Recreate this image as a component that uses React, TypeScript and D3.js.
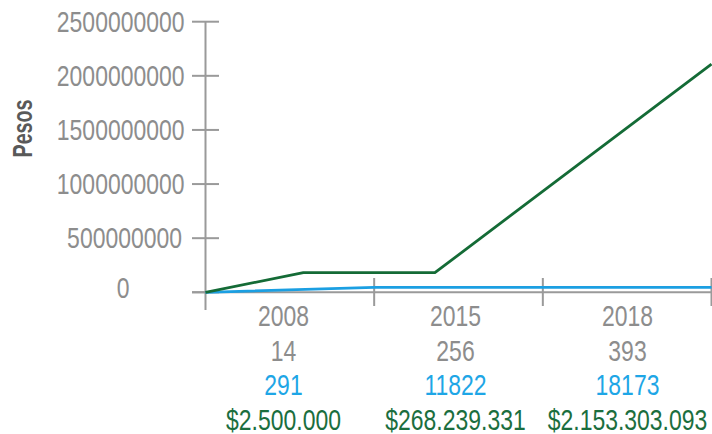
import React from "react";
import * as d3 from "d3";

const categories = ["2008", "2015", "2018"];
const rowCount = ["14", "256", "393"];
const rowBlue = ["291", "11822", "18173"];
const rowGreen = ["$2.500.000", "$268.239.331", "$2.153.303.093"];
const yTicks = [0, 500000000, 1000000000, 1500000000, 2000000000, 2500000000];

// line vertices, x in category units (0 = left axis, 3 = right edge)
const greenX = [0, 0.58, 1.36, 3];
const greenY = [0, 181000000, 181000000, 2109000000];
const blueX = [0, 1, 3];
const blueY = [0, 45000000, 45000000];

const W = 712;
const H = 434;
const FONT = "'Liberation Sans', Arial, sans-serif";
const FS = 29;
const SX = 0.792;
const GRAY = "#8d8d8d";
const AXIS = "#9a9a9a";
const GREEN = "#146b36";
const BLUE = "#1b9fe2";
const BLUE_TXT = "#1ea6e6";
const GREEN_TXT = "#1b6e3e";

function NText(props: {
  x: number;
  y: number;
  anchor: "start" | "middle" | "end";
  size: number;
  fill: string;
  children: React.ReactNode;
}) {
  return (
    <g transform={`translate(${props.x},${props.y}) scale(${SX},1)`}>
      <text x={0} y={0} textAnchor={props.anchor} fontSize={props.size} fill={props.fill}>
        {props.children}
      </text>
    </g>
  );
}

export default function App() {
  const x = d3.scaleLinear().domain([0, 3]).range([205.5, 711.5]);
  const y = d3.scaleLinear().domain([0, 2500000000]).range([292.3, 21.7]);
  const labelX = d3.scalePoint<string>().domain(categories).range([283.5, 627.5]);

  const line = d3
    .line<[number, number]>()
    .x((d) => x(d[0]))
    .y((d) => y(d[1]));

  const greenPts = greenX.map((v, i) => [v, greenY[i]] as [number, number]);
  const bluePts = blueX.map((v, i) => [v, blueY[i]] as [number, number]);

  const xTickVals = d3.range(0, categories.length + 1);

  const labelAdjust = (v: number) => {
    if (v === 0) return { dx: -55, dy: -4.5 };
    if (v === 500000000) return { dx: -2.5, dy: 0 };
    return { dx: 0, dy: 0 };
  };

  const rows: [string[], string, number][] = [
    [categories, GRAY, 326],
    [rowCount, GRAY, 361],
    [rowBlue, BLUE_TXT, 395],
    [rowGreen, GREEN_TXT, 430],
  ];

  return (
    <svg
      width={W}
      height={H}
      style={{ position: "absolute", left: 0, top: 0, background: "#fff" }}
      fontFamily={FONT}
    >
      {/* y axis title */}
      <text
        transform={`translate(32,128.5) rotate(-90)`}
        textAnchor="middle"
        fontSize={27}
        fontWeight="bold"
        fill="#595959"
        textLength={58}
        lengthAdjust="spacingAndGlyphs"
      >
        Pesos
      </text>

      {/* y axis */}
      <line x1={x(0)} x2={x(0)} y1={y(2500000000)} y2={310} stroke={AXIS} strokeWidth={2} />
      {yTicks.map((t) => {
        const a = labelAdjust(t);
        return (
          <g key={t}>
            <line x1={192} x2={219} y1={y(t)} y2={y(t)} stroke={AXIS} strokeWidth={2} />
            <NText x={184.5 + a.dx} y={y(t) + 10.3 + a.dy} anchor="end" size={FS} fill={GRAY}>
              {String(t)}
            </NText>
          </g>
        );
      })}

      {/* x axis */}
      <line x1={192} x2={W} y1={y(0)} y2={y(0)} stroke={AXIS} strokeWidth={2} />
      {xTickVals.slice(1).map((t) => (
        <line key={t} x1={x(t)} x2={x(t)} y1={278} y2={306} stroke={AXIS} strokeWidth={2} />
      ))}

      {/* lines */}
      <path d={line(bluePts) || ""} fill="none" stroke={BLUE} strokeWidth={2.8} strokeLinejoin="round" />
      <path d={line(greenPts) || ""} fill="none" stroke={GREEN} strokeWidth={2.8} strokeLinejoin="round" />

      {/* category table */}
      {rows.map(([vals, color, baseY], r) => (
        <g key={r}>
          {vals.map((v, i) => (
            <NText key={i} x={labelX(categories[i]) as number} y={baseY} anchor="middle" size={FS} fill={color}>
              {v}
            </NText>
          ))}
        </g>
      ))}
    </svg>
  );
}
